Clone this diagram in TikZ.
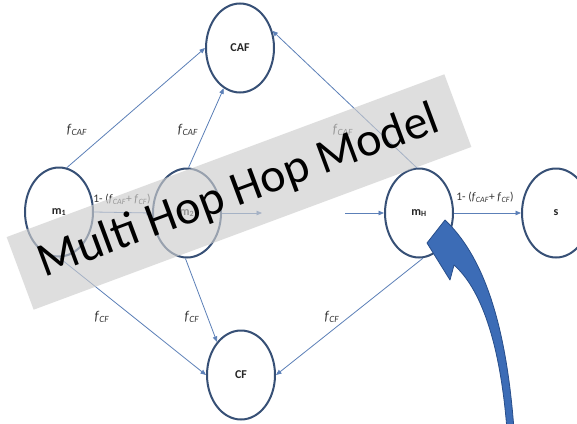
\documentclass[tikz,border=0pt]{standalone}
\usepackage{fontspec}
\setmainfont{Carlito}
\usetikzlibrary{arrows.meta,shapes.geometric}
\definecolor{ringcol}{RGB}{55,80,118}
\definecolor{linkcol}{RGB}{92,128,184}
\definecolor{labcol}{RGB}{55,55,55}
\definecolor{bannercol}{RGB}{205,205,205}
\definecolor{bigfill}{RGB}{60,108,182}
\definecolor{bigedge}{RGB}{40,78,138}
\newcommand{\fsub}[1]{\textit{f}\textsubscript{\textit{#1}}}
\tikzset{
  state/.style={ellipse, draw=ringcol, line width=2pt, fill=white,
    minimum width=68pt, minimum height=89pt, inner sep=0pt,
    font=\fontsize{12}{14}\selectfont\bfseries, text=black!85},
  link/.style={draw=linkcol, line width=0.8pt,
    -{Triangle[length=5.5pt,width=4.5pt]}},
  elab/.style={font=\fontsize{13.5}{15}\selectfont, text=labcol, inner sep=1pt},
  plab/.style={font=\fontsize{11.5}{13}\selectfont, text=labcol, inner sep=1pt},
}
\begin{document}
\begin{tikzpicture}[x=1pt,y=-1pt]
\useasboundingbox (0,0) rectangle (577,423);
\clip (0,0) rectangle (577,423);
\fill[white] (0,0) rectangle (577,423);

% states
\node[state] (CAF) at (240,48) {CAF};
\node[state] (m1)  at (59,212) {m\textsubscript{1}};
\node[state] (m2)  at (187,213) {m\textsubscript{2}};
\node[state] (mH)  at (419,213) {m\textsubscript{H}};
\node[state] (s)   at (556,213) {s};
\node[state] (CF)  at (241,375) {CF};

\coordinate (m2out) at (262,213);
\coordinate (mHin) at (345,213);

% transitions
\draw[link] (m1.80) -- (CAF.west);
\draw[link] (m2.88) -- (CAF.-112);
\draw[link] (mH.93) -- (CAF.28);
\draw[link] (m1.east) -- (m2.west);
\draw[link] (m2.east) -- (m2out);
\draw[link] (mHin) -- (mH.west);
\draw[link] (mH.east) -- (s.west);
\draw[link] (m1.south) -- (CF.west);
\draw[link] (m2.-92) -- (CF.126);
\draw[link] (mH.-85) -- (CF.east);

% transition labels
\node[elab] (l1) at (77,130) {\fsub{CAF}};
\node[elab] (l2) at (188,130) {\fsub{CAF}};
\node[elab] (l3) at (343,130) {\fsub{CAF}};
\node[elab] (l4) at (102,317) {\fsub{CF}};
\node[elab] (l5) at (192,317) {\fsub{CF}};
\node[elab] (l6) at (332,317) {\fsub{CF}};
\node[plab] (l7) at (122,199) {1- (\fsub{CAF}+ \fsub{CF})};
\node[plab] (l8) at (485,197) {1- (\fsub{CAF}+ \fsub{CF})};

% title banner
\node[rectangle, fill=bannercol, fill opacity=0.65, text opacity=1,
  minimum width=467pt, minimum height=77.5pt, rotate=20.4,
  font=\fontsize{48}{50}\selectfont, text=black] (banner) at (239,192)
  {Multi Hop Hop Model};

% curved pointer
\draw[fill=bigfill, draw=bigedge, line width=0.8pt, line join=round]
  (427,243) -- (445,220)
  .. controls (482,255) and (506,320) .. (514,430)
  -- (507,430)
  .. controls (500,340) and (480,288) .. (454,265)
  -- (450,280) -- cycle;
\end{tikzpicture}
\end{document}
